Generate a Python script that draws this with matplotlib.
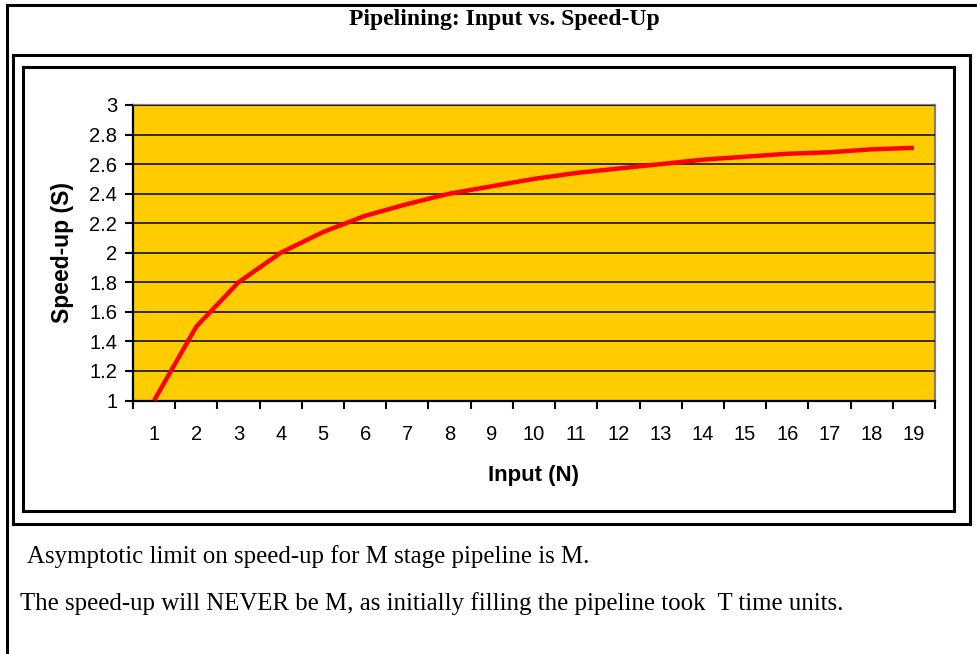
import matplotlib
matplotlib.use("Agg")
import matplotlib.pyplot as plt
from matplotlib.lines import Line2D
from matplotlib.ticker import FixedLocator, NullFormatter, FuncFormatter

# Speed-up of a 3-stage pipeline as the number of inputs grows
inputs = list(range(1, 20))
speedup = [1.00, 1.50, 1.80, 2.00, 2.14, 2.25, 2.33, 2.40, 2.45, 2.50,
           2.54, 2.57, 2.60, 2.63, 2.65, 2.67, 2.68, 2.70, 2.71]
y_ticks = [1.0, 1.2, 1.4, 1.6, 1.8, 2.0, 2.2, 2.4, 2.6, 2.8, 3.0]

title = "Pipelining: Input vs. Speed-Up"
x_title = "Input (N)"
y_title = "Speed-up (S)"
notes = [
    "Asymptotic limit on speed-up for M stage pipeline is M.",
    "The speed-up will NEVER be M, as initially filling the pipeline took  T time units.",
]

W, H = 977, 654
fig = plt.figure(figsize=(W / 100, H / 100), dpi=100)
fig.patch.set_facecolor("white")

SANS = ["Liberation Sans", "DejaVu Sans"]
SERIF = ["Liberation Serif", "DejaVu Serif"]


def px(x, y):
    """Pixel position (from top-left) to figure fraction."""
    return x / W, 1 - y / H


def hline(x0, x1, y, lw=2.2):
    (a, b), (c, d) = px(x0, y), px(x1, y)
    fig.add_artist(Line2D([a, c], [b, d], color="black", lw=lw,
                          transform=fig.transFigure, solid_capstyle="projecting"))


def vline(x, y0, y1, lw=2.2):
    (a, b), (c, d) = px(x, y0), px(x, y1)
    fig.add_artist(Line2D([a, c], [b, d], color="black", lw=lw,
                          transform=fig.transFigure, solid_capstyle="projecting"))


def box(x0, y0, x1, y1, lw=2.2):
    hline(x0, x1, y0, lw)
    hline(x0, x1, y1, lw)
    vline(x0, y0, y1, lw)
    vline(x1, y0, y1, lw)


# page frame: top rule and left rule
hline(7, 977, 5)
vline(7, 5, 654)
# chart frames
box(13, 55, 970, 524)
box(23, 67, 954, 511)

# title and notes
tx, ty = px(504, 19)
fig.text(tx, ty, title, ha="center", va="center", family=SERIF,
         fontweight="bold", fontsize=17)
for (xx, yy), line in zip([(27, 557), (20, 604)], notes):
    a, b = px(xx, yy)
    fig.text(a, b, line, ha="left", va="center", family=SERIF, fontsize=17.9)

# plot area
L, T, R, B = 133, 105, 935, 400.5
ax = fig.add_axes([L / W, 1 - B / H, (R - L) / W, (B - T) / H])
ax.set_facecolor("#FFCC00")

pos = [i for i in range(len(inputs))]
ax.plot(pos, speedup, color="#FF0000", lw=3.2, solid_capstyle="butt", zorder=3)

ax.set_xlim(-0.5, len(inputs) - 0.5)
ax.set_ylim(y_ticks[0], y_ticks[-1])

ax.set_yticks(y_ticks)
ax.yaxis.set_major_formatter(FuncFormatter(lambda v, _: f"{v:g}"))
ax.yaxis.grid(True, color="black", lw=1.1)
ax.set_axisbelow(False)
for gl in ax.get_ygridlines():
    gl.set_zorder(2)

ax.xaxis.set_major_locator(FixedLocator([p - 0.5 for p in pos] + [pos[-1] + 0.5]))
ax.xaxis.set_major_formatter(NullFormatter())
ax.xaxis.set_minor_locator(FixedLocator(pos))
ax.set_xticks(pos, minor=True)
ax.set_xticklabels([str(v) for v in inputs], minor=True)
ax.tick_params(axis="x", which="minor", length=0, pad=17.5)
ax.tick_params(axis="both", which="major", direction="out", length=6,
               width=1.5, color="black")
ax.tick_params(axis="y", pad=5.4)
for lab in ax.get_xticklabels(minor=True) + ax.get_yticklabels():
    lab.set_family(SANS)
    lab.set_fontsize(14.5)

for s in ("left", "bottom"):
    ax.spines[s].set_color("black")
    ax.spines[s].set_linewidth(1.6)
for s in ("top", "right"):
    ax.spines[s].set_color("#808080")
    ax.spines[s].set_linewidth(1.6)

ax.set_xlabel(x_title, family=SANS, fontweight="bold", fontsize=16)
ax.set_ylabel(y_title, family=SANS, fontweight="bold", fontsize=16.5)
ax.xaxis.label.set_va("center")
ax.yaxis.label.set_va("center")
ax.xaxis.set_label_coords(0.5, (B - 476) / (B - T))
ax.yaxis.set_label_coords((62 - L) / (R - L), 0.5)

fig.savefig("out.png", dpi=100, facecolor="white")
